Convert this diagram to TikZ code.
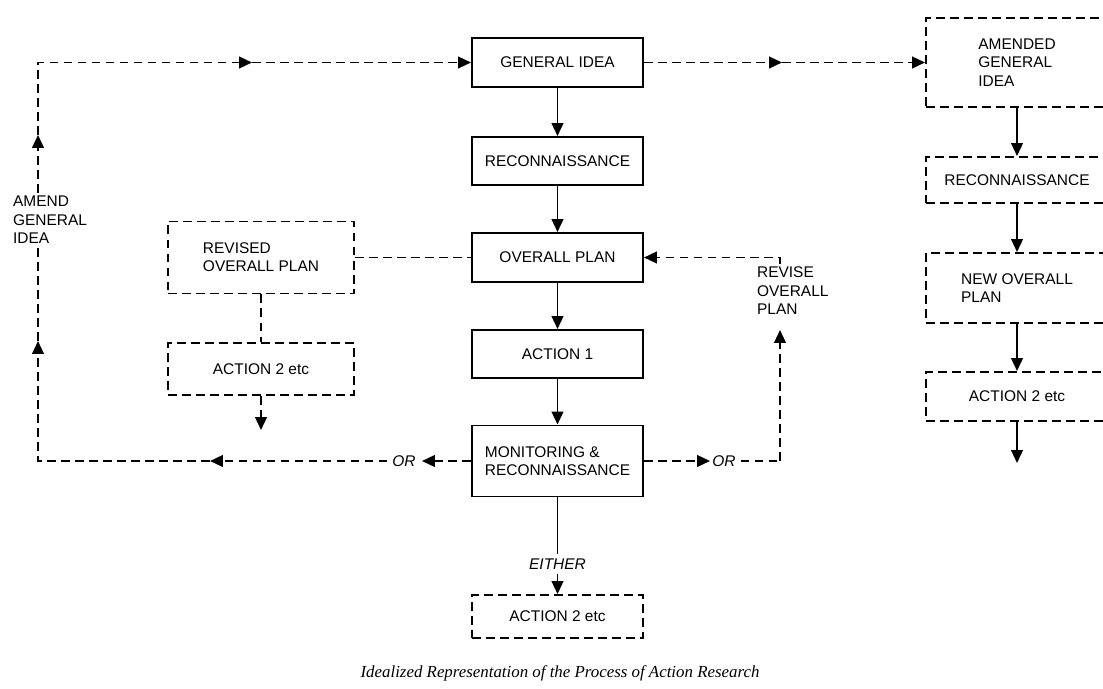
\documentclass[tikz,border=0pt]{standalone}
\usepackage{fontspec}
\setmainfont{Liberation Sans}
\newfontfamily\capfont{Liberation Serif}
\usetikzlibrary{arrows.meta}
\tikzset{
  box/.style={draw, line width=1.4pt, minimum width=4.275cm, align=left, inner sep=0pt},
  dbox/.style={box, dash pattern=on 0.22cm off 0.13cm},
  sline/.style={line width=1.4pt},
  dline/.style={line width=1.4pt, dash pattern=on 0.22cm off 0.13cm},
  tip/.style={-{Triangle[length=3.2mm,width=2.9mm]}},
  lbl/.style={align=left, inner sep=2pt},
}
\begin{document}
\begin{tikzpicture}[x=0.025cm, y=-0.025cm, font=\fontsize{11}{13}\selectfont]
  \useasboundingbox (0,0) rectangle (1103,689);
  \clip (0,0) rectangle (1103,689);

  % Drawing middle column
  \node [box, minimum height=1.225cm] (gi) at (557.5,62.5) {GENERAL IDEA};
  \node [box, minimum height=1.2cm] (rec) at (557.5,161) {RECONNAISSANCE};
  \node [box, minimum height=1.225cm] (op) at (557.5,257.5) {OVERALL PLAN};
  \node [box, minimum height=1.2cm] (act1) at (557.5,354) {ACTION 1};
  \node [box, minimum height=1.775cm] (mon) at (557.5,461) {MONITORING \&\\RECONNAISSANCE};
  \node (either) at (557.5,564) {\textit{EITHER}};
  \node [dbox, minimum height=1.075cm] (act2b) at (557.5,616.5) {ACTION 2 etc};

  \draw [sline, tip] (gi) -- (rec);
  \draw [sline, tip] (rec) -- (op);
  \draw [sline, tip] (op) -- (act1);
  \draw [sline, tip] (act1) -- (mon);
  \draw [sline] (mon) -- (either);
  \draw [sline, tip] (either) -- (act2b);

  % Drawing left column
  \node [dbox, minimum width=4.65cm, minimum height=1.8cm] (rop) at (261,257.5) {REVISED\\OVERALL PLAN};
  \node [dbox, minimum width=4.65cm, minimum height=1.3cm] (a2l) at (261,369) {ACTION 2 etc};
  \coordinate (a2lend) at (261,430);

  \draw [dline] (rop) -- (op);
  \draw [dline] (rop) -- (a2l);
  \draw [dline, tip] (a2l) -- (a2lend);

  % Drawing right column
  \node [dbox, minimum width=4.55cm, minimum height=2.225cm] (ag) at (1017,62.5) {AMENDED\\GENERAL\\IDEA};
  \node [dbox, minimum width=4.55cm, minimum height=1.15cm] (rec2) at (1017,180) {RECONNAISSANCE};
  \node [dbox, minimum width=4.55cm, minimum height=1.75cm] (nop) at (1017,288) {NEW OVERALL\\PLAN};
  \node [dbox, minimum width=4.55cm, minimum height=1.225cm] (a2r) at (1017,396.5) {ACTION 2 etc};
  \coordinate (a2rend) at (1017,463);

  \draw [sline, tip] (ag) -- (rec2);
  \draw [sline, tip] (rec2) -- (nop);
  \draw [sline, tip] (nop) -- (a2r);
  \draw [sline, tip] (a2r) -- (a2rend);

  % Drawing top line
  \coordinate (mtl) at (252,62.5);
  \coordinate (mtr) at (782,62.5);
  \draw [dline, tip] (mtl) -- (gi);
  \draw [dline, tip] (gi) -- (mtr);
  \draw [dline, tip] (mtr) -- (ag);

  % Drawing loop AMEND GENERAL IDEA
  \coordinate (tl) at (38,62.5);
  \coordinate (bl) at (38,461);
  \coordinate (upa) at (38,135);
  \coordinate (upb) at (38,341);
  \coordinate (mbl) at (210,461);
  \coordinate (mbr) at (422,461);
  \node [lbl, anchor=north west] (amend) at (10,193) {AMEND\\GENERAL\\IDEA};
  \node (orleft) at (404,461) {\textit{OR}};

  \draw [dline, tip] (mon) -- (mbr);
  \draw [dline, tip] (orleft) -- (mbl);
  \draw [dline, tip] (mbl) -- (bl) -- (upb);
  \draw [dline] (upb) -- (amend.south -| bl);
  \draw [dline, tip] (amend.north -| bl) -- (upa);
  \draw [dline, tip] (upa) -- (tl) -- (mtl);

  % Drawing loop REVISE OVERALL PLAN
  \coordinate (br) at (780,461);
  \coordinate (tr) at (780,257.5);
  \coordinate (upc) at (780,330);
  \coordinate (mrr) at (710,461);
  \node [lbl, anchor=north west] (revise) at (754,264) {REVISE\\OVERALL\\PLAN};
  \node (orright) at (724,461) {\textit{OR}};

  \draw [dline, tip] (mon) -- (mrr);
  \draw [dline] (orright) -- (br);
  \draw [dline, tip] (br) -- (upc);
  \draw [dline, tip] (revise.north -| tr) -- (tr) -- (op);

  % Caption
  \node (cap) at (560,673) {\capfont\itshape\fontsize{12}{14}\selectfont Idealized Representation of the Process of Action Research};
\end{tikzpicture}
\end{document}
